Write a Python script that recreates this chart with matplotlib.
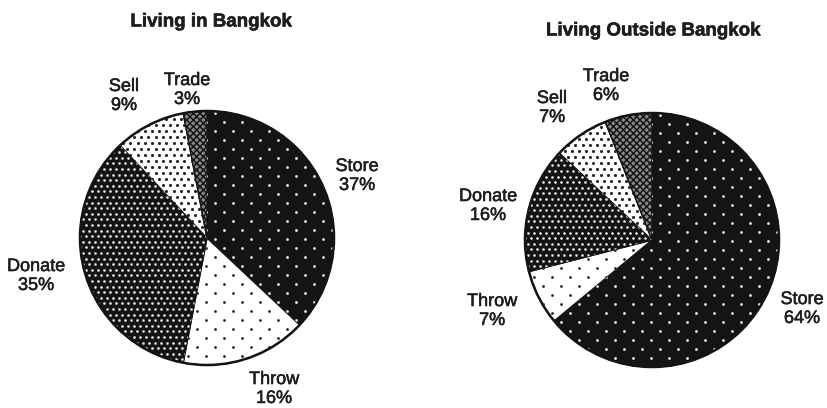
import matplotlib
matplotlib.use("Agg")
import matplotlib.pyplot as plt
from matplotlib.patches import Circle
import matplotlib.patheffects as pe
import numpy as np

plt.rcParams["font.family"] = ["Liberation Sans", "DejaVu Sans"]
plt.rcParams["hatch.linewidth"] = 1.1

categories = ["Store", "Throw", "Donate", "Sell", "Trade"]
in_bangkok = [37, 16, 35, 9, 3]
outside_bangkok = [64, 7, 16, 7, 6]
titles = ["Living in Bangkok", "Living Outside Bangkok"]

W, H = 827, 408
fig = plt.figure(figsize=(W / 100, H / 100), dpi=100)
ax = fig.add_axes([0, 0, 1, 1])

INK = "#141414"
TXT = "#1e1e1e"

# fill style per category: face colour, dot colour, row step, column step (px), dot size
dot_fills = {
    "Store": (INK, "#f0f0f0", 9.0, 18.0, 4.0),
    "Throw": ("white", "#262626", 9.0, 18.0, 4.0),
    "Donate": (INK, "#e8e8e8", 5.6, 6.0, 3.6),
    "Sell": ("white", "#262626", 6.0, 7.2, 5.0),
}


def px(x, y):
    """Pixel position (origin top-left) to axes data coordinates."""
    return x, H - y


def dotted(wedge, face, dot, dy, dx, size, cx, cy, r):
    wedge.set_facecolor(face)
    ys = np.arange(cy - r - dy, cy + r + dy, dy)
    pts = []
    for i, yy in enumerate(ys):
        off = (dx / 2) * (i % 2)
        xs = np.arange(cx - r - dx + off, cx + r + dx, dx)
        pts.append(np.column_stack([xs, np.full_like(xs, yy)]))
    pts = np.vstack(pts)
    sc = ax.scatter(pts[:, 0], pts[:, 1], s=size, c=dot, linewidths=0, zorder=3)
    sc.set_clip_path(wedge)


def draw_pie(values, centre, radius):
    cx, cy = px(*centre)
    wedges, _ = ax.pie(values, startangle=90, counterclock=False,
                       center=(cx, cy), radius=radius,
                       wedgeprops=dict(edgecolor=INK, linewidth=1.0, zorder=2))
    for name, w in zip(categories, wedges):
        if name in dot_fills:
            dotted(w, *dot_fills[name], cx, cy, radius)
        else:
            w.set_facecolor("#8a8a8a")
            w.set_hatch("xxxxx")
    ax.add_patch(Circle((cx, cy), radius, fill=False, edgecolor=INK,
                        linewidth=1.8, zorder=4))


draw_pie(in_bangkok, (207, 238), 127)
draw_pie(outside_bangkok, (652, 240), 127)

ax.set_xlim(0, W)
ax.set_ylim(0, H)
ax.set_aspect("auto")
ax.axis("off")

thick = [pe.withStroke(linewidth=0.4, foreground=TXT)]

title_pos = [(211, 22), (653, 31)]
for t, (x, y) in zip(titles, title_pos):
    ax.text(*px(x, y), t, ha="center", va="center", fontsize=13.5,
            fontweight="bold", color=TXT, path_effects=thick)

left_labels = {"Store": (357, 176), "Throw": (274, 389), "Donate": (36, 276),
               "Sell": (124, 96), "Trade": (187, 90)}
right_labels = {"Store": (802, 309), "Throw": (492, 311), "Donate": (488, 206),
                "Sell": (552, 108), "Trade": (606, 86)}

for values, spots in ((in_bangkok, left_labels), (outside_bangkok, right_labels)):
    for name, v in zip(categories, values):
        ax.text(*px(*spots[name]), f"{name}\n{v}%", ha="center", va="center",
                fontsize=13, color=TXT, linespacing=1.15, path_effects=thick)

fig.savefig("out.png", dpi=100)
